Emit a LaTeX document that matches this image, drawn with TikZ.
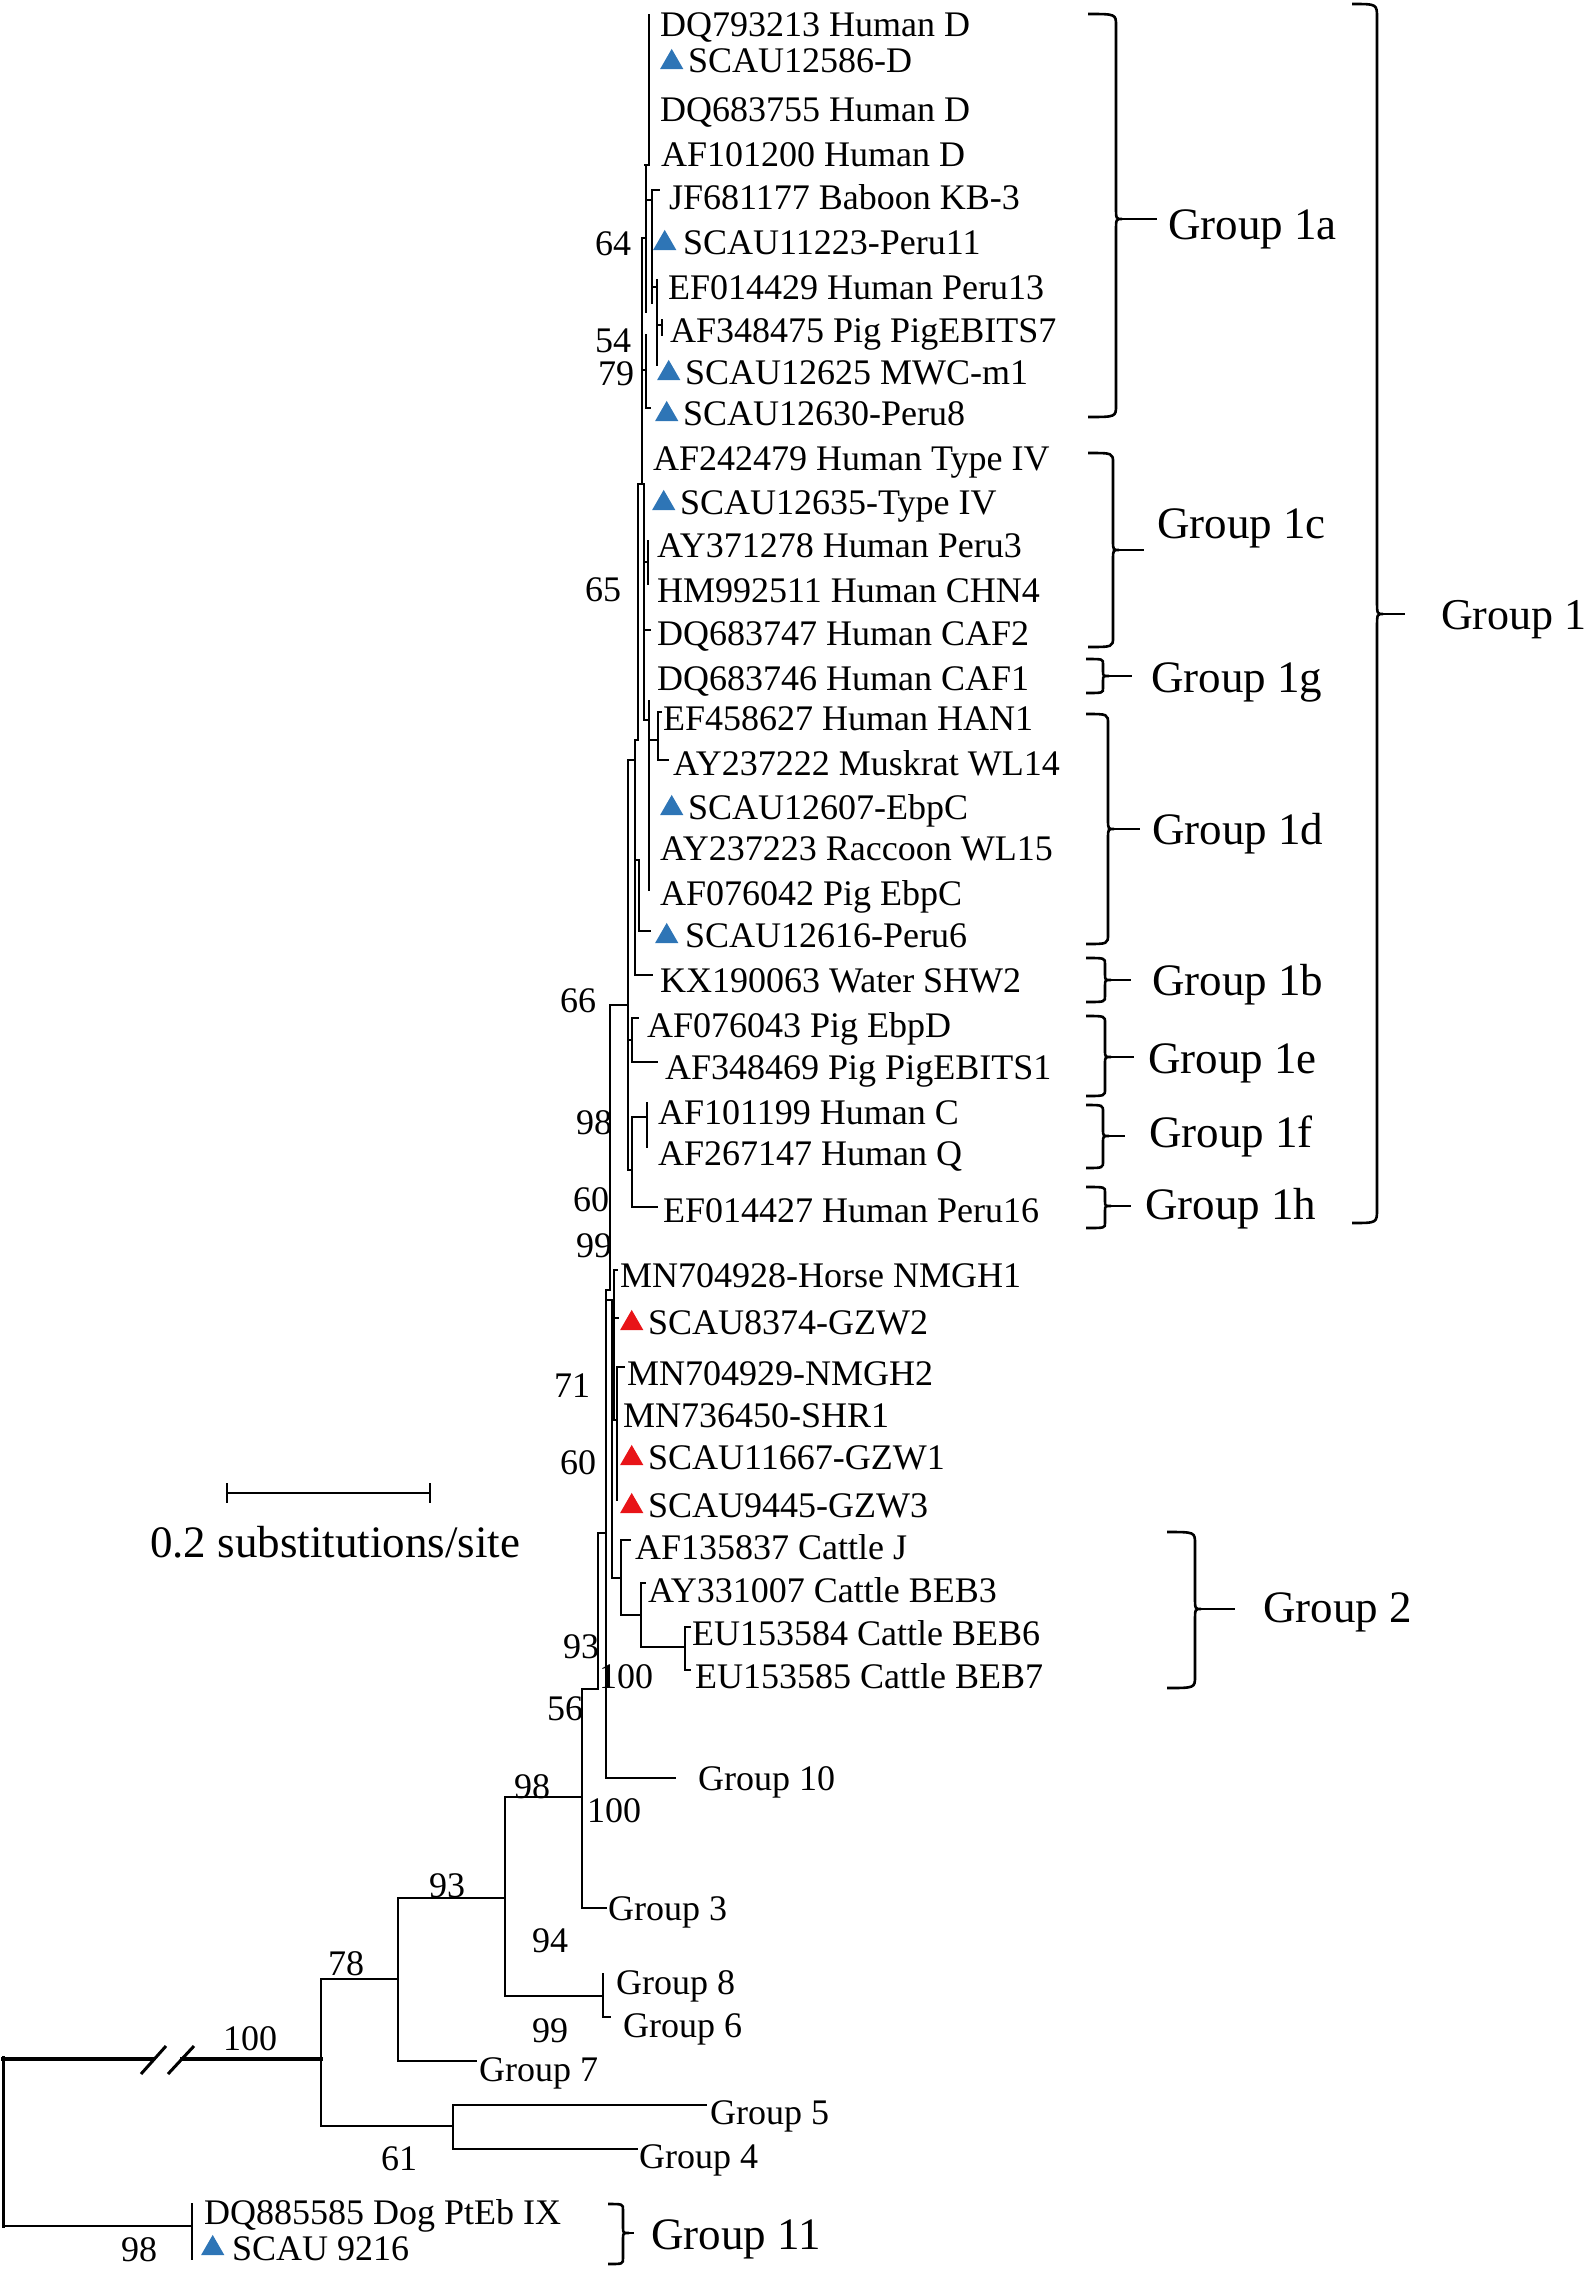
\documentclass[tikz,border=0pt]{standalone}
\usepackage{fontspec}
\setmainfont{Liberation Serif}
\usetikzlibrary{shapes.geometric}
\definecolor{triblue}{RGB}{46,117,182}
\definecolor{trired}{RGB}{232,20,24}
\newcommand\grpbrace[7]{%
  \draw[brk] (#1,#3) .. controls (#2,#3) .. (#2,{#3+#7}) -- (#2,{#4-#7}) .. controls (#2,#4) .. ({#2+6},#4) .. controls (#2,#4) .. (#2,{#4+#7}) -- (#2,{#5-#7}) .. controls (#2,#5) .. (#1,#5);
  \draw[brk] ({#2+6},#4) -- (#6,#4);}
\newcommand\tri[4]{\node[tri,fill=#4] (#1) at ({#2+11.7},{#3+3.4}) {};}
\begin{document}
\begin{tikzpicture}[x=1pt,y=-1pt,
  br/.style={line width=2.2pt,line cap=rect},
  thick branch/.style={line width=4.5pt},
  brk/.style={line width=2.6pt},
  leaf/.style={anchor=base west,inner sep=0pt,font=\fontsize{36}{40}\selectfont},
  grp/.style={anchor=base west,inner sep=0pt,font=\fontsize{45}{50}\selectfont},
  boot/.style={anchor=base,inner sep=0pt,font=\fontsize{36}{40}\selectfont},
  tri/.style={regular polygon,regular polygon sides=3,minimum size=27pt,inner sep=0pt,draw=none}]
\useasboundingbox (0,0) rectangle (1588,2269);

% ---------------- tree branches ----------------
\begin{scope}[br]
% Group 1a
\draw (649,15) -- (649,165);
\draw (645,165) -- (649,165);
\draw (646,165) -- (646,312);
\draw (646,200) -- (652,200);
\draw (652,190) -- (652,303);
\draw (652,190) -- (659,190);
\draw (652,287) -- (657,287);
\draw (657,280) -- (657,365);
\draw (657,325) -- (662,325);
\draw (662,320) -- (662,335);
\draw (642,238) -- (646,238);
\draw (642,238) -- (642,484);
\draw (642,370) -- (646,370);
\draw (646,335) -- (646,408) -- (650,408);
% Group 1c / 1g / 1d
\draw (638,484) -- (644,484);
\draw (638,484) -- (638,740);
\draw (644,484) -- (644,720);
\draw (644,562) -- (648,562);
\draw (648,541) -- (648,584);
\draw (644,630) -- (650,630);
\draw (644,720) -- (649,720);
\draw (649,701) -- (649,890);
\draw (649,740) -- (658,740);
\draw (658,712) -- (658,760);
\draw (658,712) -- (661,712);
\draw (658,760) -- (668,760);
\draw (635,740) -- (638,740);
\draw (635,740) -- (635,975);
\draw (635,975) -- (652,975);
\draw (635,860) -- (639,860);
\draw (639,860) -- (639,931);
\draw (639,931) -- (650,931);
\draw (628,760) -- (635,760);
\draw (628,760) -- (628,1170);
% Group 1e / 1f / 1h
\draw (610,1005) -- (628,1005);
\draw (628,1040) -- (632,1040);
\draw (632,1018) -- (632,1062);
\draw (632,1018) -- (638,1018);
\draw (632,1062) -- (657,1062);
\draw (628,1170) -- (632,1170);
\draw (632,1117) -- (632,1207);
\draw (632,1117) -- (647,1117);
\draw (647,1103) -- (647,1147);
\draw (632,1207) -- (657,1207);
% stem and horse / GZW cluster
\draw (610,1005) -- (610,1290);
\draw (606,1290) -- (610,1290);
\draw (606,1290) -- (606,1778);
\draw (606,1778) -- (675,1778);
\draw (606,1300) -- (612,1300);
\draw (612,1300) -- (612,1578);
\draw (612,1350) -- (614,1350);
\draw (614,1270) -- (614,1420);
\draw (614,1270) -- (617,1270);
\draw (614,1318) -- (618,1318);
\draw (614,1420) -- (617,1420);
\draw (617,1367) -- (617,1500);
\draw (617,1367) -- (624,1367);
% Group 2
\draw (612,1578) -- (621,1578);
\draw (621,1540) -- (621,1615);
\draw (621,1540) -- (630,1540);
\draw (621,1615) -- (641,1615);
\draw (641,1583) -- (641,1647);
\draw (641,1583) -- (645,1583);
\draw (641,1647) -- (685,1647);
\draw (685,1627) -- (685,1670);
\draw (685,1627) -- (690,1627);
\draw (685,1670) -- (690,1670);
% deeper nodes
\draw (598,1533) -- (606,1533);
\draw (598,1533) -- (598,1689);
\draw (582,1689) -- (598,1689);
\draw (582,1689) -- (582,1908);
\draw (582,1908) -- (606,1908);
\draw (505,1797) -- (582,1797);
\draw (505,1797) -- (505,1996);
\draw (505,1996) -- (603,1996);
\draw (603,1974) -- (603,2017) -- (610,2017);
\draw (398,1898) -- (505,1898);
\draw (398,1898) -- (398,2061);
\draw (398,2061) -- (476,2061);
\draw (321,1979) -- (398,1979);
\draw (321,1979) -- (321,2126);
\draw (321,2126) -- (453,2126);
\draw (453,2105) -- (453,2149);
\draw (453,2105) -- (706,2105);
\draw (453,2149) -- (637,2149);
% root
\draw[line width=3pt] (3,2057) -- (3,2226);
\draw (3,2226) -- (192,2226);
\draw (192,2204) -- (192,2259);
\end{scope}
\draw[thick branch] (1,2059) -- (154,2059);
\draw[thick branch] (180,2059) -- (323,2059);
\draw[line width=3pt] (141,2074) -- (166,2046);
\draw[line width=3pt] (168,2074) -- (194,2046);

% ---------------- leaves ----------------
\node[leaf] (l1) at (660,37) {DQ793213 Human D};
\tri{t2}{660}{59}{triblue}
\node[leaf] (l2) at (688,73) {SCAU12586-D};
\node[leaf] (l3) at (660,122) {DQ683755 Human D};
\node[leaf] (l4) at (661,167) {AF101200 Human D};
\node[leaf] (l5) at (669,210) {JF681177 Baboon KB-3};
\tri{t6}{653}{240}{triblue}
\node[leaf] (l6) at (683,254) {SCAU11223-Peru11};
\node[leaf] (l7) at (668,299) {EF014429 Human Peru13};
\node[leaf] (l8) at (670,342) {AF348475 Pig PigEBITS7};
\tri{t9}{657}{370}{triblue}
\node[leaf] (l9) at (685,384) {SCAU12625 MWC-m1};
\tri{t10}{655}{411}{triblue}
\node[leaf] (l10) at (683,425) {SCAU12630-Peru8};
\node[leaf] (l11) at (653,470) {AF242479 Human Type IV};
\tri{t12}{652}{500}{triblue}
\node[leaf] (l12) at (680,514) {SCAU12635-Type IV};
\node[leaf] (l13) at (657,557) {AY371278 Human Peru3};
\node[leaf] (l14) at (657,602) {HM992511 Human CHN4};
\node[leaf] (l15) at (657,645) {DQ683747 Human CAF2};
\node[leaf] (l16) at (657,690) {DQ683746 Human CAF1};
\node[leaf] (l17) at (663,730) {EF458627 Human HAN1};
\node[leaf] (l18) at (673,775) {AY237222 Muskrat WL14};
\tri{t19}{660}{805}{triblue}
\node[leaf] (l19) at (688,819) {SCAU12607-EbpC};
\node[leaf] (l20) at (660,860) {AY237223 Raccoon WL15};
\node[leaf] (l21) at (660,905) {AF076042 Pig EbpC};
\tri{t22}{655}{933}{triblue}
\node[leaf] (l22) at (685,947) {SCAU12616-Peru6};
\node[leaf] (l23) at (660,992) {KX190063 Water SHW2};
\node[leaf] (l24) at (647,1037) {AF076043 Pig EbpD};
\node[leaf] (l25) at (665,1079) {AF348469 Pig PigEBITS1};
\node[leaf] (l26) at (658,1124) {AF101199 Human C};
\node[leaf] (l27) at (658,1165) {AF267147 Human Q};
\node[leaf] (l28) at (663,1222) {EF014427 Human Peru16};
\node[leaf] (l29) at (620,1287) {MN704928-Horse NMGH1};
\tri{t30}{620}{1320}{trired}
\node[leaf] (l30) at (648,1334) {SCAU8374-GZW2};
\node[leaf] (l31) at (627,1385) {MN704929-NMGH2};
\node[leaf] (l32) at (623,1427) {MN736450-SHR1};
\tri{t33}{620}{1455}{trired}
\node[leaf] (l33) at (648,1469) {SCAU11667-GZW1};
\tri{t34}{620}{1503}{trired}
\node[leaf] (l34) at (648,1517) {SCAU9445-GZW3};
\node[leaf] (l35) at (635,1559) {AF135837 Cattle J};
\node[leaf] (l36) at (648,1602) {AY331007 Cattle BEB3};
\node[leaf] (l37) at (692,1645) {EU153584 Cattle BEB6};
\node[leaf] (l38) at (695,1688) {EU153585 Cattle BEB7};
\node[leaf] (g10) at (698,1790) {Group 10};
\node[leaf] (g3) at (608,1920) {Group 3};
\node[leaf] (g8) at (616,1994) {Group 8};
\node[leaf] (g6) at (623,2037) {Group 6};
\node[leaf] (g7) at (479,2081) {Group 7};
\node[leaf] (g5) at (710,2124) {Group 5};
\node[leaf] (g4) at (639,2168) {Group 4};
\node[leaf] (l46) at (204,2224) {DQ885585 Dog PtEb IX};
\tri{t47}{201}{2245}{triblue}
\node[leaf] (l47) at (232,2260) {SCAU 9216};

% ---------------- bootstrap values ----------------
\node[boot] (b64) at (613,255) {64};
\node[boot] (b54) at (613,352) {54};
\node[boot] (b79) at (616,385) {79};
\node[boot] (b65) at (603,601) {65};
\node[boot] (b66) at (578,1012) {66};
\node[boot] (b98a) at (594,1134) {98};
\node[boot] (b60a) at (591,1211) {60};
\node[boot] (b99a) at (594,1257) {99};
\node[boot] (b71) at (572,1397) {71};
\node[boot] (b60b) at (578,1474) {60};
\node[boot] (b93a) at (581,1658) {93};
\node[boot] (b100a) at (626,1688) {100};
\node[boot] (b56) at (565,1720) {56};
\node[boot] (b98b) at (532,1798) {98};
\node[boot] (b100b) at (614,1822) {100};
\node[boot] (b93b) at (447,1897) {93};
\node[boot] (b94) at (550,1952) {94};
\node[boot] (b78) at (346,1975) {78};
\node[boot] (b99b) at (550,2042) {99};
\node[boot] (b100c) at (250,2050) {100};
\node[boot] (b61) at (399,2170) {61};
\node[boot] (b98c) at (139,2261) {98};

% ---------------- scale bar ----------------
\coordinate (sbl) at (227,1493);
\coordinate (sbr) at (430,1493);
\draw[br] (sbl) -- (sbr);
\draw[br] (227,1484) -- (227,1502);
\draw[br] (430,1484) -- (430,1502);
\node[grp] (scale) at (150,1557) {0.2 substitutions/site};

% ---------------- group brackets ----------------
\grpbrace{1088}{1116}{14}{219}{417}{1157}{12}
\grpbrace{1088}{1113}{453}{550}{647}{1144}{10}
\grpbrace{1086}{1103}{659}{676}{693}{1132}{5}
\grpbrace{1086}{1108}{714}{829}{944}{1140}{10}
\grpbrace{1086}{1105}{958}{980}{1002}{1131}{6}
\grpbrace{1086}{1105}{1016}{1057}{1096}{1134}{7}
\grpbrace{1086}{1103}{1105}{1136}{1168}{1125}{7}
\grpbrace{1086}{1105}{1187}{1206}{1228}{1131}{5}
\grpbrace{1352}{1377}{4}{614}{1223}{1405}{14}
\grpbrace{1167}{1195}{1532}{1609}{1688}{1235}{12}
\grpbrace{608}{623}{2204}{2233}{2264}{634}{6}

\node[grp] (G1a) at (1168,239) {Group 1a};
\node[grp] (G1c) at (1157,538) {Group 1c};
\node[grp] (G1g) at (1151,692) {Group 1g};
\node[grp] (G1d) at (1152,844) {Group 1d};
\node[grp] (G1b) at (1152,995) {Group 1b};
\node[grp] (G1e) at (1148,1073) {Group 1e};
\node[grp] (G1f) at (1149,1147) {Group 1f};
\node[grp] (G1h) at (1145,1219) {Group 1h};
\node[grp,font=\fontsize{44}{48}\selectfont] (G1) at (1441,629) {Group 1};
\node[grp] (G2) at (1263,1622) {Group 2};
\node[grp] (G11) at (651,2249) {Group 11};
\end{tikzpicture}
\end{document}
